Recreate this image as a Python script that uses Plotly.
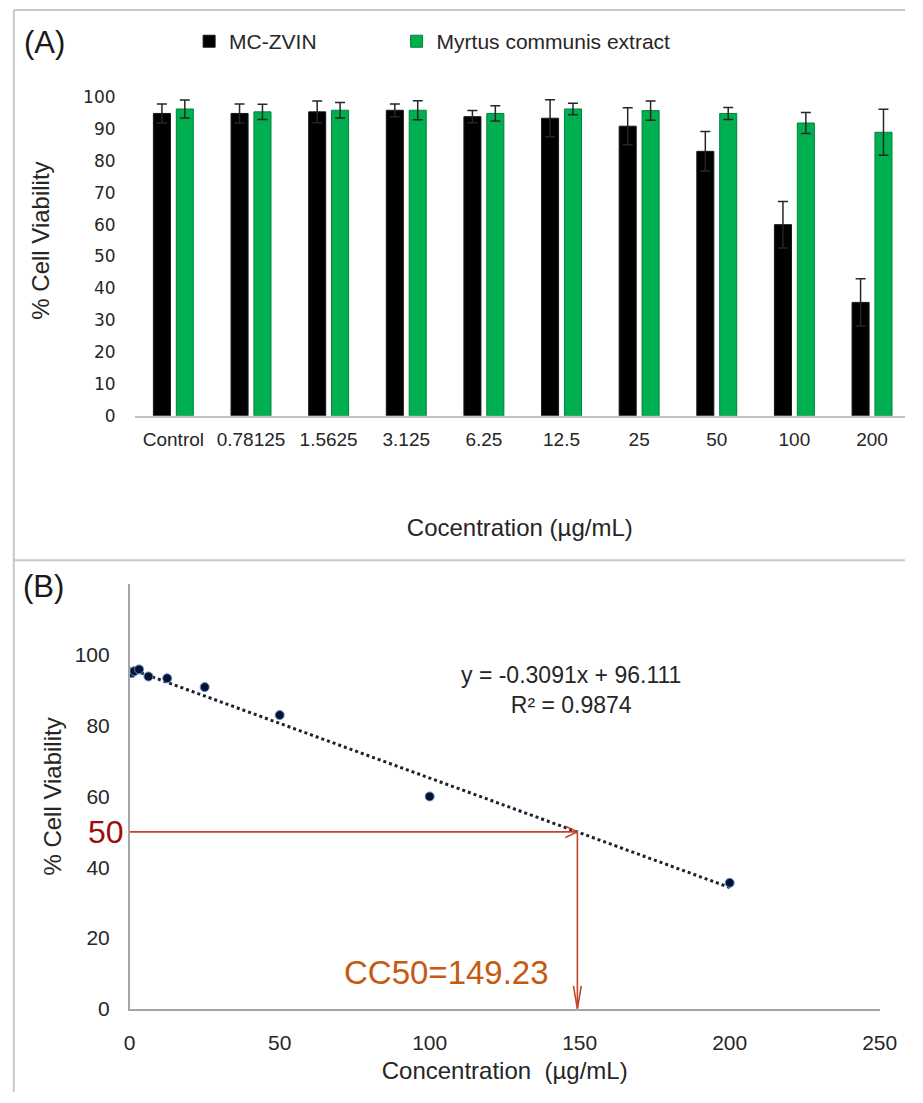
import plotly.graph_objects as go

# ---------------- data ----------------
categories = ["Control", "0.78125", "1.5625", "3.125", "6.25", "12.5", "25", "50", "100", "200"]
mc_zvin = [94.9, 94.9, 95.4, 95.9, 93.9, 93.4, 90.9, 83.0, 60.0, 35.6]
mc_zvin_err = [3.0, 3.0, 3.4, 2.0, 1.9, 5.8, 5.8, 6.2, 7.3, 7.4]
myrtus = [96.3, 95.4, 95.9, 95.9, 94.9, 96.3, 95.8, 94.9, 91.9, 89.0]
myrtus_err = [2.8, 2.4, 2.4, 3.0, 2.4, 1.8, 3.0, 1.9, 3.3, 7.2]

conc_b = [0, 0.78125, 1.5625, 3.125, 6.25, 12.5, 25, 50, 100, 200]
viab_b = mc_zvin
slope = -0.3091
intercept = 96.111
r2 = 0.9874
cc50 = 149.23
half = 50

W, H = 923, 1103
def px(x):
    return x / W
def py(y):
    return 1 - y / H

ARIAL = "Liberation Sans, Arial, sans-serif"
VERD = "DejaVu Sans, Verdana, sans-serif"

fig = go.Figure()

# ---------------- panel A ----------------
fig.add_trace(go.Bar(
    x=categories, y=mc_zvin, name="MC-ZVIN", legend="legend",
    marker=dict(color="#000000", line=dict(color="#1a1a1a", width=1)),
    error_y=dict(type="data", array=mc_zvin_err, visible=True, color="#262626", thickness=1.5, width=5),
    xaxis="x", yaxis="y",
))
fig.add_trace(go.Bar(
    x=categories, y=myrtus, name="Myrtus communis extract", legend="legend2",
    marker=dict(color="#00b050", line=dict(color="#00833b", width=1)),
    error_y=dict(type="data", array=myrtus_err, visible=True, color="#262626", thickness=1.5, width=5),
    xaxis="x", yaxis="y",
))

# ---------------- panel B ----------------
trend_x = [conc_b[0], conc_b[-1]]
trend_y = [slope * v + intercept for v in trend_x]
fig.add_trace(go.Scatter(
    x=trend_x, y=trend_y, mode="lines",
    line=dict(color="#1c2233", width=3, dash="dot"),
    showlegend=False, xaxis="x2", yaxis="y2", hoverinfo="skip",
))
fig.add_trace(go.Scatter(
    x=conc_b, y=viab_b, mode="markers",
    marker=dict(color="#07122e", size=9, line=dict(color="#5b8fd0", width=1)),
    showlegend=False, xaxis="x2", yaxis="y2",
))

red = "#c4442c"
fig.add_trace(go.Scatter(
    x=[0, cc50, None, cc50 - 4, cc50, cc50 - 4, None, cc50, cc50, None, cc50 - 1.3, cc50, cc50 + 1.3],
    y=[half, half, None, half + 1.6, half, half - 1.6, None, half, 0, None, 6.5, 0, 6.5],
    mode="lines", line=dict(color=red, width=1.6),
    showlegend=False, xaxis="x2", yaxis="y2", hoverinfo="skip",
))

legfont = dict(family=ARIAL, size=21, color="#262626")
fig.update_layout(
    width=W, height=H,
    margin=dict(l=0, r=0, t=0, b=0),
    paper_bgcolor="white", plot_bgcolor="white",
    barmode="group", bargap=0.41, bargroupgap=0.255,
    font=dict(family=ARIAL, color="#333333"),
    showlegend=True,
    legend=dict(x=px(188), y=py(42), xanchor="left", yanchor="middle",
                font=legfont, itemwidth=30, bgcolor="rgba(0,0,0,0)"),
    legend2=dict(x=px(401), y=py(42), xanchor="left", yanchor="middle",
                 font=legfont, itemwidth=30, bgcolor="rgba(0,0,0,0)"),
    xaxis=dict(
        domain=[px(132), 1], range=[-0.5, -0.5 + (W - 132) / 79.7],
        anchor="y", type="category",
        showline=True, linecolor="#c0c0c0", linewidth=2,
        ticks="", showgrid=False, zeroline=False,
        tickfont=dict(family=ARIAL, size=19, color="#262626"),
        ticklabelstandoff=5,
        title=dict(text="Cocentration (µg/mL)", font=dict(family=ARIAL, size=24, color="#262626"), standoff=71),
    ),
    yaxis=dict(
        domain=[py(420), py(66)], range=[0, 110], anchor="x",
        tickvals=[0, 10, 20, 30, 40, 50, 60, 70, 80, 90, 100],
        showline=False, ticks="", showgrid=False, zeroline=False,
        tickfont=dict(family=VERD, size=17, color="#262626"),
        ticklabelstandoff=18,
        title=dict(text="% Cell Viability", font=dict(family=ARIAL, size=24, color="#262626"), standoff=26),
    ),
    xaxis2=dict(
        domain=[px(127), px(897)], range=[0, 250], anchor="y2",
        tickvals=[0, 50, 100, 150, 200, 250],
        showline=True, linecolor="#a6a6a6", linewidth=1.5,
        ticks="", showgrid=False, zeroline=False,
        tickfont=dict(family=ARIAL, size=21, color="#262626"),
        ticklabelstandoff=14,
        title=dict(text="Concentration  (µg/mL)", font=dict(family=ARIAL, size=24, color="#262626"), standoff=9),
    ),
    yaxis2=dict(
        domain=[py(1019), py(590)], range=[0, 120], anchor="x2",
        tickvals=[0, 20, 40, 60, 80, 100],
        showline=True, linecolor="#a6a6a6", linewidth=1.5,
        ticks="", showgrid=False, zeroline=False,
        tickfont=dict(family=ARIAL, size=21, color="#262626"),
        ticklabelstandoff=14,
        title=dict(text="% Cell Viability", font=dict(family=ARIAL, size=24, color="#262626"), standoff=6),
    ),
)

# frame lines
frame = "#c8c8c8"
for (x0, y0, x1, y1) in [(8, 10, W, 10), (8, 10, 8, H), (8, 566, W, 566)]:
    fig.add_shape(type="line", xref="paper", yref="paper",
                  x0=px(x0), y0=py(y0), x1=px(x1), y1=py(y1),
                  line=dict(color=frame, width=2))

fig.add_annotation(text="(A)", xref="paper", yref="paper", x=px(40), y=py(43),
                   xanchor="center", yanchor="middle",
                   showarrow=False, font=dict(family=ARIAL, size=31, color="#1a1a1a"))
fig.add_annotation(text="(B)", xref="paper", yref="paper", x=px(39), y=py(592),
                   xanchor="center", yanchor="middle",
                   showarrow=False, font=dict(family=ARIAL, size=31, color="#1a1a1a"))
fig.add_annotation(text=f"y = {slope}x + {intercept}<br>R² = {r2}", xref="paper", yref="paper",
                   x=px(580), y=py(697), xanchor="center", yanchor="middle",
                   showarrow=False, align="center",
                   font=dict(family=ARIAL, size=23, color="#262626"))
fig.add_annotation(text=str(half), xref="paper", yref="y2", x=px(123), y=half,
                   xanchor="right", yanchor="middle",
                   showarrow=False, font=dict(family=ARIAL, size=32, color="#9c0c0c"))
fig.add_annotation(text=f"CC50={cc50}", xref="x2", yref="y2", x=cc50, y=4.5, xanchor="right",
                   yanchor="bottom", xshift=-26, showarrow=False,
                   font=dict(family=ARIAL, size=33, color="#c55a11"))

fig.write_html("out.html", config={"displayModeBar": False},
               post_script="document.body.style.margin='0';document.body.style.overflow='hidden';")
